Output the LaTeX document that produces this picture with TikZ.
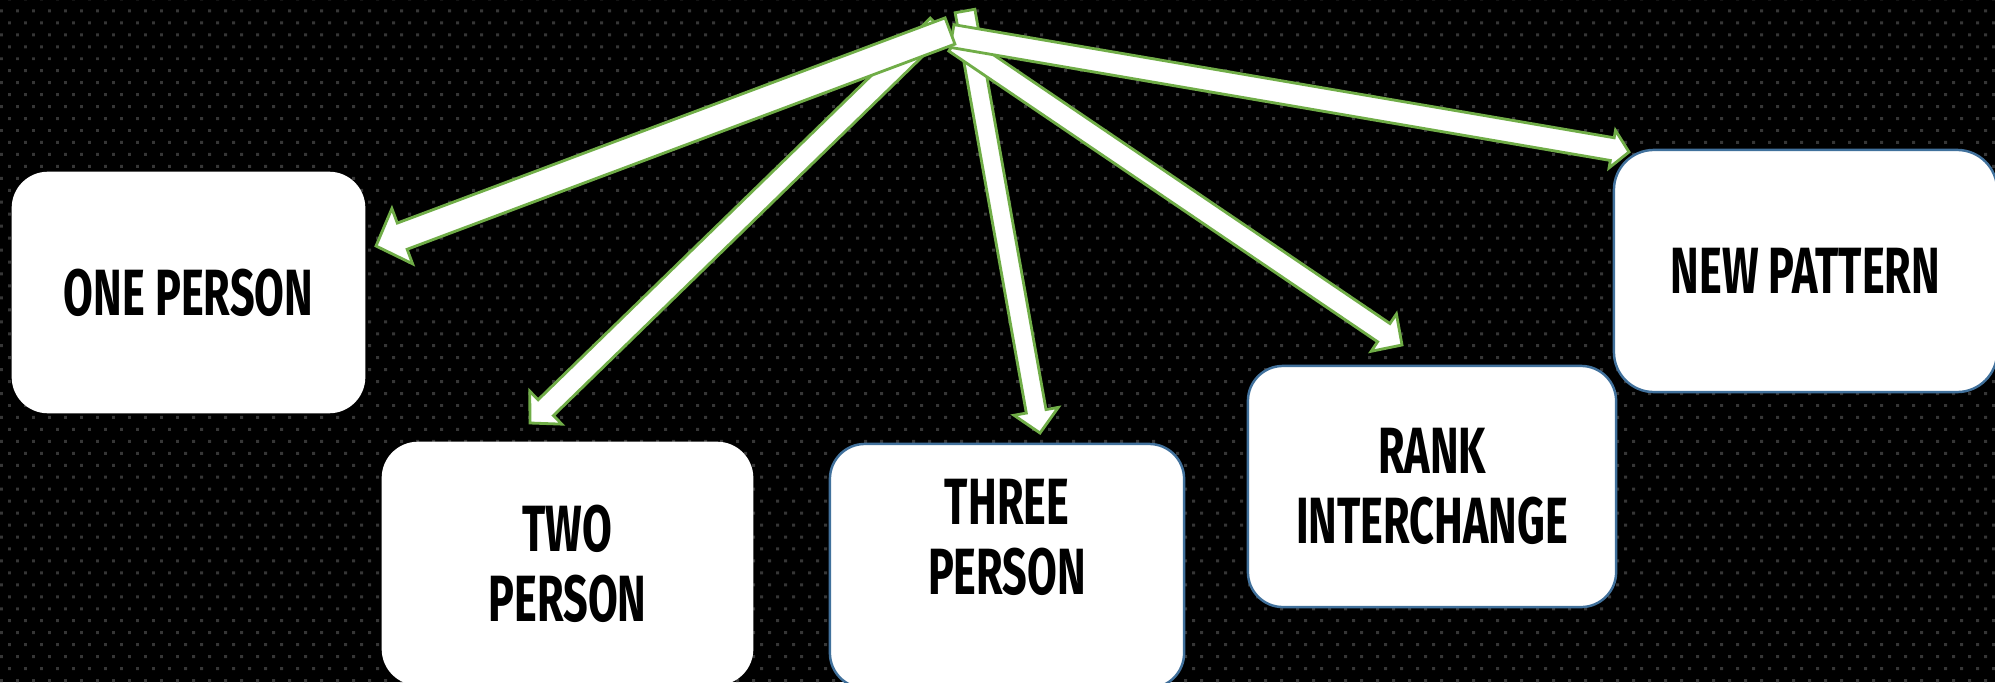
\documentclass[tikz,border=0pt]{standalone}
\usepackage{fontspec}
\newfontfamily\agency[FakeStretch=0.66]{Fira Sans}
\usetikzlibrary{calc,patterns}
\definecolor{arrgreen}{HTML}{70AD47}
\definecolor{boxblue}{HTML}{41719C}
\definecolor{dotgray}{HTML}{363636}
\pgfdeclarepatternformonly{bgdots}{\pgfpoint{-0.5pt}{-0.5pt}}{\pgfpoint{5pt}{7.3pt}}{\pgfpoint{4.55pt}{6.8pt}}{%
  \pgfpathrectangle{\pgfpoint{0pt}{0pt}}{\pgfpoint{0.85pt}{0.85pt}}%
  \pgfpathrectangle{\pgfpoint{2.275pt}{3.4pt}}{\pgfpoint{0.85pt}{0.85pt}}%
  \pgfusepath{fill}}
% block arrow: #1 tail, #2 tip, #3 shaft half width, #4 head half width, #5 head length
\newcommand\blockarr[5]{%
  \coordinate (ba-n) at ($(#2)!#5!(#1)$);
  \draw[barrow] ($(#1)!#3!90:(#2)$) -- ($(ba-n)!#3!-90:(#1)$) -- ($(ba-n)!#4!-90:(#1)$)
    -- (#2) -- ($(ba-n)!#4!90:(#1)$) -- ($(ba-n)!#3!90:(#1)$) -- ($(#1)!#3!-90:(#2)$) -- cycle;}
\begin{document}
\begin{tikzpicture}[x=0.01cm,y=-0.01cm,
  box/.style={draw=white, fill=white, rounded corners=0.35cm, line width=0.7pt, inner sep=0pt,
    align=center, font=\agency\bfseries\fontsize{18.6}{19.9}\selectfont},
  bluebox/.style={box, draw=boxblue},
  barrow/.style={draw=arrgreen, fill=white, line width=0.8pt, line join=miter}]
\fill[black] (0,0) rectangle (1995,682);
\fill[pattern=bgdots, pattern color=dotgray] (0,0) rectangle (1995,682);
\useasboundingbox (0,0) rectangle (1995,682);

\node[box, minimum width=3.51cm, minimum height=2.39cm] (one) at (188.5,292.5) {ONE PERSON};
\node[box, minimum width=3.69cm, minimum height=2.41cm] (two) at (567.5,563.5) {TWO\\PERSON};
\node[bluebox, minimum width=3.54cm, minimum height=2.44cm, text depth=0.58cm] (three) at (1007,566) {THREE\\PERSON};
\node[bluebox, minimum width=3.68cm, minimum height=2.41cm] (rank) at (1432,486.5) {RANK\\INTERCHANGE};
\node[bluebox, minimum width=3.83cm, minimum height=2.42cm, rounded corners=0.4cm] (new) at (1805.5,271) {NEW PATTERN};

\coordinate (tail-two) at (938,26);
\coordinate (tail-three) at (965,11);
\coordinate (tail-rank) at (955,42);
\coordinate (tail-new) at (952,36);
\coordinate (tail-one) at (950,31);
\coordinate (tip-one) at (376,246);
\coordinate (tip-two) at (530,423);
\coordinate (tip-three) at (1040,433);
\coordinate (tip-rank) at (1402,345);
\coordinate (tip-new) at (1629,152);

\blockarr{tail-two}{tip-two}{0.11cm}{0.23cm}{0.22cm}
\blockarr{tail-three}{tip-three}{0.10cm}{0.225cm}{0.22cm}
\blockarr{tail-rank}{tip-rank}{0.11cm}{0.225cm}{0.22cm}
\blockarr{tail-new}{tip-new}{0.115cm}{0.19cm}{0.17cm}
\blockarr{tail-one}{tip-one}{0.14cm}{0.295cm}{0.28cm}
\end{tikzpicture}
\end{document}
